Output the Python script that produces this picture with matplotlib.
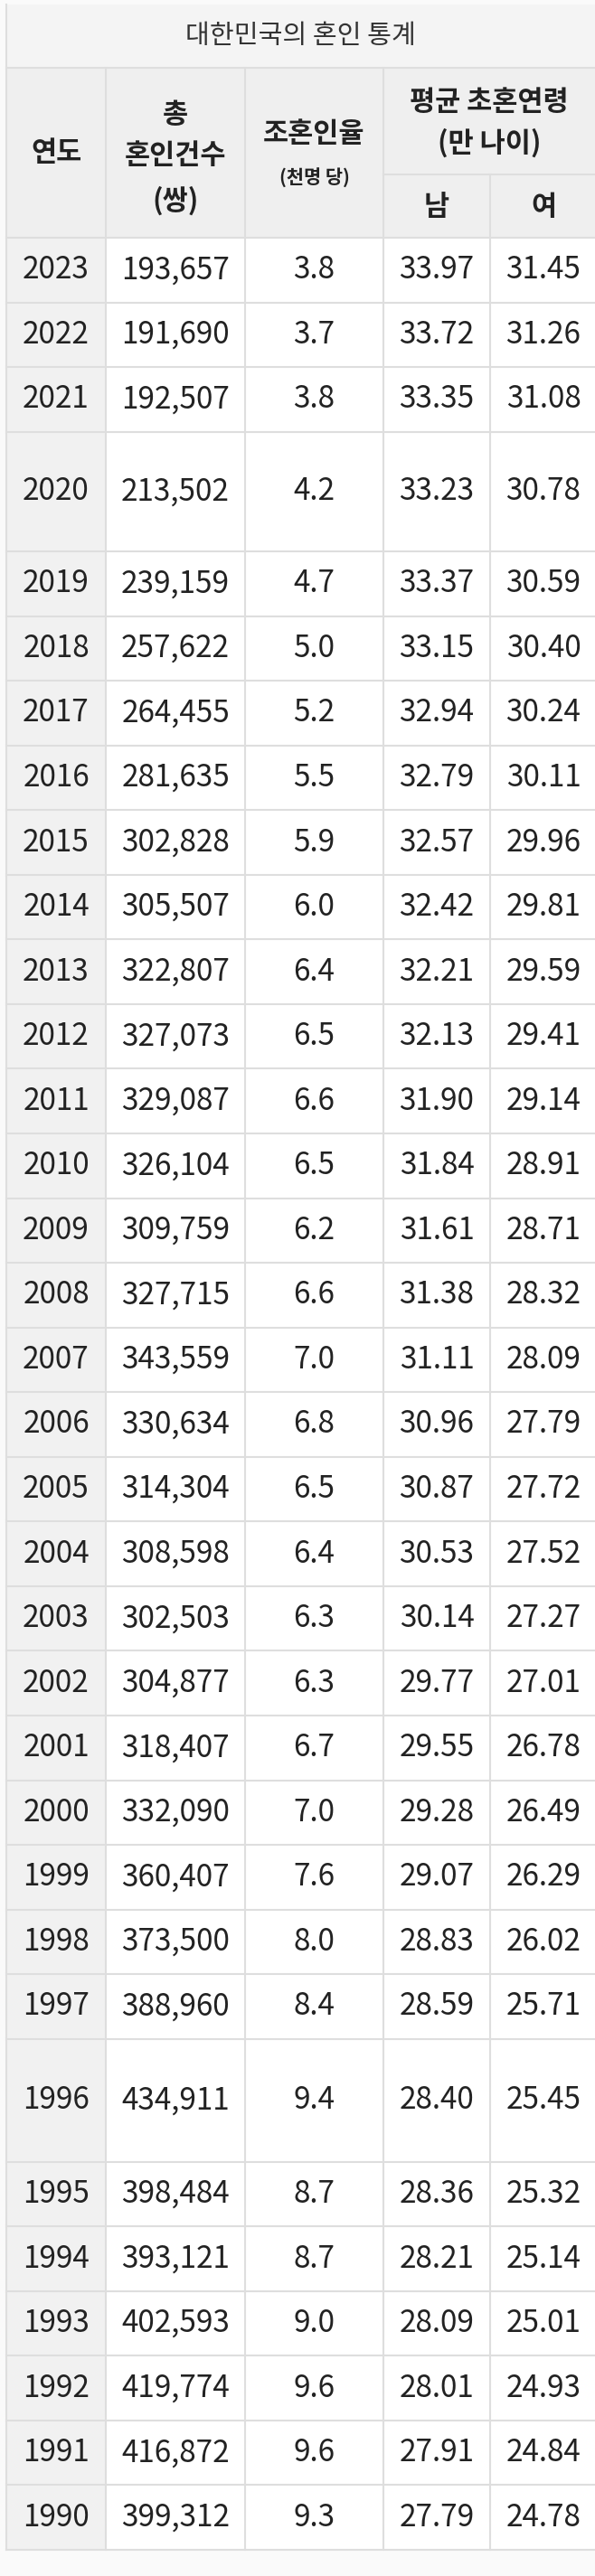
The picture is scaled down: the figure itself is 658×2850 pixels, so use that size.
import matplotlib
matplotlib.use("Agg")
import matplotlib.pyplot as plt
from matplotlib.patches import Rectangle

plt.rcParams['font.family'] = ['Noto Sans CJK KR', 'DejaVu Sans']

years = list(range(2023, 1989, -1))
marriages = ["193,657","191,690","192,507","213,502","239,159","257,622","264,455","281,635",
             "302,828","305,507","322,807","327,073","329,087","326,104","309,759","327,715",
             "343,559","330,634","314,304","308,598","302,503","304,877","318,407","332,090",
             "360,407","373,500","388,960","434,911","398,484","393,121","402,593","419,774",
             "416,872","399,312"]
rates = ["3.8","3.7","3.8","4.2","4.7","5.0","5.2","5.5","5.9","6.0","6.4","6.5","6.6","6.5",
         "6.2","6.6","7.0","6.8","6.5","6.4","6.3","6.3","6.7","7.0","7.6","8.0","8.4","9.4",
         "8.7","8.7","9.0","9.6","9.6","9.3"]
male_age = ["33.97","33.72","33.35","33.23","33.37","33.15","32.94","32.79","32.57","32.42",
            "32.21","32.13","31.90","31.84","31.61","31.38","31.11","30.96","30.87","30.53",
            "30.14","29.77","29.55","29.28","29.07","28.83","28.59","28.40","28.36","28.21",
            "28.09","28.01","27.91","27.79"]
female_age = ["31.45","31.26","31.08","30.78","30.59","30.40","30.24","30.11","29.96","29.81",
              "29.59","29.41","29.14","28.91","28.71","28.32","28.09","27.79","27.72","27.52",
              "27.27","27.01","26.78","26.49","26.29","26.02","25.71","25.45","25.32","25.14",
              "25.01","24.93","24.84","24.78"]
title = "대한민국의 혼인 통계"

W, H = 658, 2850
fig = plt.figure(figsize=(W/100, H/100), dpi=100)
ax = fig.add_axes([0, 0, 1, 1])
ax.set_xlim(0, W); ax.set_ylim(H, 0); ax.axis('off')
fig.patch.set_facecolor('#fafafa')

cols = [7, 117, 271, 424, 542, 660]
top, title_b, sub_y, head_b, bottom = 5, 75, 193, 263, 2821
tall = {2020: 1.85, 1996: 1.9}
weights = [tall.get(y, 1.0) for y in years]
h = (bottom - head_b) / sum(weights)
line = '#dedede'
txt = '#222222'

ax.add_patch(Rectangle((cols[0], top), W - cols[0], title_b - top, fc='#f4f4f4', ec='none'))
ax.add_patch(Rectangle((cols[0], title_b), W - cols[0], head_b - title_b, fc='#efefef', ec='none'))
ax.add_patch(Rectangle((cols[0], head_b), cols[1] - cols[0], bottom - head_b, fc='#f1f1f1', ec='none'))
ax.add_patch(Rectangle((cols[1], head_b), W - cols[1], bottom - head_b, fc='white', ec='none'))

ax.text((cols[0] + W) / 2, (top + title_b) / 2, title, ha='center', va='center', fontsize=21, color='#333333')

hkw = dict(ha='center', va='center', fontweight='bold', color=txt)
ax.text((cols[0]+cols[1])/2, (title_b+head_b)/2, "연도", fontsize=22, **hkw)
ax.text((cols[1]+cols[2])/2, 127, "총", fontsize=22, **hkw)
ax.text((cols[1]+cols[2])/2, 172, "혼인건수", fontsize=22, **hkw)
ax.text((cols[1]+cols[2])/2, 222, "(쌍)", fontsize=22, **hkw)
ax.text((cols[2]+cols[3])/2, 148, "조혼인율", fontsize=22, **hkw)
ax.text((cols[2]+cols[3])/2, 197, "(천명 당)", fontsize=15, **hkw)
ax.text((cols[3]+W)/2, 113, "평균 초혼연령", fontsize=22, **hkw)
ax.text((cols[3]+W)/2, 158, "(만 나이)", fontsize=22, **hkw)
ax.text((cols[3]+cols[4])/2, 229, "남", fontsize=22, **hkw)
ax.text((cols[4]+cols[5])/2, 229, "여", fontsize=22, **hkw)

ax.plot([cols[0], W], [title_b, title_b], color=line, lw=1.5)
ax.plot([cols[3], W], [sub_y, sub_y], color=line, lw=1.5)
ax.plot([cols[4], cols[4]], [sub_y, bottom], color=line, lw=1.5)
for c in cols[1:4]:
    ax.plot([c, c], [title_b, bottom], color=line, lw=1.5)
ax.plot([cols[0], cols[0]], [top, bottom], color=line, lw=1.5)

y = head_b
ax.plot([cols[0], W], [y, y], color=line, lw=1.5)
for i, yr in enumerate(years):
    rh = weights[i] * h
    yc = y + rh / 2
    vals = [str(yr), marriages[i], rates[i], male_age[i], female_age[i]]
    for j, v in enumerate(vals):
        ax.text((cols[j] + cols[j+1]) / 2, yc, v, ha='center', va='center', fontsize=24, color=txt)
    y += rh
    ax.plot([cols[0], W], [y, y], color=line, lw=1.5)

fig.savefig('out.png', dpi=100, facecolor=fig.get_facecolor())
